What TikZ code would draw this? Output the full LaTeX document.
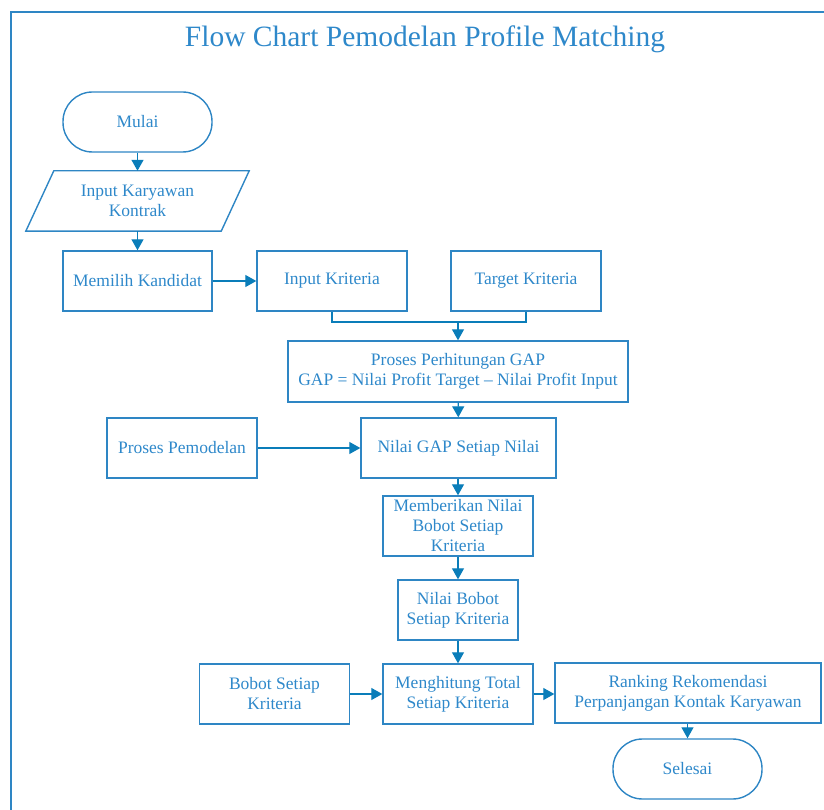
\documentclass[tikz,border=0pt]{standalone}
\usepackage{fontspec}
\setmainfont{Liberation Serif}
\usetikzlibrary{arrows.meta}
\definecolor{boxc}{RGB}{46,134,196}
\definecolor{txtc}{RGB}{46,136,202}
\definecolor{arrc}{RGB}{10,125,185}
\tikzset{
  box/.style={draw=boxc, line width=1.4pt, text=txtc, align=center, inner sep=0pt,
    font=\fontsize{17.5}{20}\selectfont},
  term/.style={box, rounded corners=29.5pt},
  conn/.style={draw=arrc, line width=1.2pt},
  arr/.style={conn, -{Triangle[length=11pt,width=12pt]}},
}
\begin{document}
\begin{tikzpicture}[x=1pt,y=-1pt]
\useasboundingbox (0,0) rectangle (824,810);
% frame
\draw[boxc, line width=1.6pt] (11,830) -- (11,12) -- (840,12);
\node[text=txtc, font=\fontsize{29.5}{32}\selectfont] (title) at (425,39) {Flow Chart Pemodelan Profile Matching};

\node[term, minimum width=149pt, minimum height=60pt] (mulai) at (137.5,122) {Mulai};
\node[inner sep=0pt, minimum width=195pt, minimum height=60pt, text=txtc, align=center,
  font=\fontsize{17.5}{20}\selectfont] (input) at (137.5,201) {Input Karyawan\\Kontrak};
\draw[boxc, line width=1.4pt] ([xshift=14pt]input.north west) -- ([xshift=14pt]input.north east)
  -- ([xshift=-14pt]input.south east) -- ([xshift=-14pt]input.south west) -- cycle;
\node[box, minimum width=149pt, minimum height=60pt] (pilih) at (137.5,281) {Memilih Kandidat};
\node[box, minimum width=150pt, minimum height=60pt] (ik) at (332,281) {Input Kriteria};
\node[box, minimum width=150pt, minimum height=60pt] (tk) at (526,281) {Target Kriteria};
\node[box, minimum width=340pt, minimum height=61pt] (gap) at (458,371.5) {Proses Perhitungan GAP\\GAP = Nilai Profit Target -- Nilai Profit Input};
\node[box, minimum width=195pt, minimum height=60pt] (ngap) at (458.5,448) {Nilai GAP Setiap Nilai};
\node[box, minimum width=150pt, minimum height=60pt] (pp) at (182,448) {Proses Pemodelan};
\node[box, minimum width=150pt, minimum height=60pt] (beri) at (458,526) {Memberikan Nilai\\Bobot Setiap\\Kriteria};
\node[box, minimum width=120pt, minimum height=60pt] (nb) at (458,610) {Nilai Bobot\\Setiap Kriteria};
\node[box, minimum width=150pt, minimum height=60pt] (bs) at (274.5,694) {Bobot Setiap\\Kriteria};
\node[box, minimum width=150pt, minimum height=60pt] (ht) at (458,694) {Menghitung Total\\Setiap Kriteria};
\node[box, minimum width=266pt, minimum height=60pt] (rank) at (688,693) {Ranking Rekomendasi\\Perpanjangan Kontak Karyawan};
\node[term, minimum width=149pt, minimum height=60pt] (selesai) at (687.5,769) {Selesai};

\coordinate (m) at (458,322);
\draw[arr] (mulai) -- (input);
\draw[arr] (input) -- (pilih);
\draw[arr] (pilih) -- (ik);
\draw[conn] (ik.south) |- (m) -| (tk.south);
\draw[arr] (m) -- (gap.north);
\draw[arr] (gap) -- (ngap);
\draw[arr] (pp) -- (ngap);
\draw[arr] (ngap.south -| beri.north) -- (beri.north);
\draw[arr] (beri) -- (nb);
\draw[arr] (nb) -- (ht);
\draw[arr] (bs) -- (ht);
\draw[arr] (ht.east) -- (ht.east -| rank.west);
\draw[arr] (rank.south -| selesai.north) -- (selesai.north);
\end{tikzpicture}
\end{document}
